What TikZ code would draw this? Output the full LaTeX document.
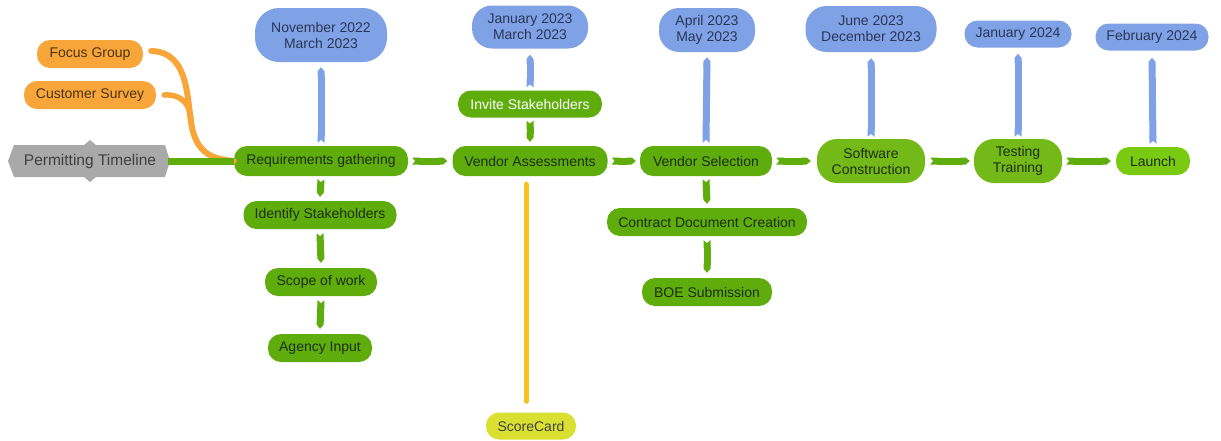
\documentclass[tikz,border=0pt]{standalone}
\usepackage{fontspec}
\setmainfont{Liberation Sans}
\usetikzlibrary{arrows.meta}
\definecolor{grn}{HTML}{5FAD0D}
\definecolor{grnl}{HTML}{73BA18}
\definecolor{grnt}{HTML}{1F2D12}
\definecolor{blu}{HTML}{7FA2E6}
\definecolor{blut}{HTML}{2B3655}
\definecolor{org}{HTML}{F8A53A}
\definecolor{orgt}{HTML}{4A3414}
\definecolor{gry}{HTML}{A9A9A9}
\definecolor{gryt}{HTML}{404040}
\definecolor{ylw}{HTML}{D9E032}
\definecolor{ylwl}{HTML}{F7C21E}
\tikzset{
  pill/.style={rounded corners=13pt, inner sep=0pt, align=center, font=\fontsize{14}{16}\selectfont},
  gbox/.style={pill, fill=grn, text=grnt},
  lbox/.style={pill, fill=grnl, text=grnt},
  bbox/.style={pill, fill=blu, text=blut},
  obox/.style={pill, fill=org, text=orgt},
  glink/.style={draw=grn, line width=7pt, {Triangle Cap[reversed, cap angle=100]}-{Triangle Cap[cap angle=80]}},
  blink/.style={draw=blu, line width=7pt, {Triangle Cap[reversed, cap angle=100]}-{Triangle Cap[cap angle=80]}},
}
\begin{document}
\begin{tikzpicture}[x=1pt,y=-1pt]
\useasboundingbox (0,0) rectangle (1221,440);
\fill[white] (0,0) rectangle (1221,440);

% Permitting Timeline shape
\fill[gry] (14,145) -- (84,145) -- (90,140) -- (96,145) -- (165,145) -- (170,161) -- (165,177)
  -- (96,177) -- (90,182) -- (84,177) -- (14,177) -- (8,161) -- cycle;
\node[inner sep=0pt, text=gryt, font=\fontsize{15.5}{18}\selectfont] (pt) at (90,161) {Permitting Timeline};
\coordinate (ptr) at (168,161);

% orange
\node[obox, minimum width=106pt, minimum height=28pt] (fg) at (90,54) {Focus Group};
\node[obox, minimum width=132pt, minimum height=28pt] (cs) at (90,95) {Customer Survey};

% main green nodes
\node[gbox, minimum width=174pt, minimum height=30pt] (rg) at (321,161) {Requirements gathering};
\node[gbox, minimum width=155pt, minimum height=30pt] (va) at (530,161) {Vendor Assessments};
\node[gbox, minimum width=132pt, minimum height=30pt] (vs) at (706,161) {Vendor Selection};
\node[lbox, minimum width=108pt, minimum height=44pt, rounded corners=20pt] (sc) at (871,161) {Software\\Construction};
\node[lbox, minimum width=88pt, minimum height=44pt, rounded corners=20pt] (tt) at (1018,161) {Testing\\Training};
\node[lbox, minimum width=74pt, minimum height=28pt, fill=grnl!85!yellow!90!green] (la) at (1153,161) {Launch};

% sub green nodes
\node[gbox, minimum width=144pt, minimum height=27pt, text=white] (is) at (530,104) {Invite Stakeholders};
\node[gbox, minimum width=153pt, minimum height=28pt] (id) at (320,215) {Identify Stakeholders};
\node[gbox, minimum width=112pt, minimum height=28pt] (sw) at (321,282) {Scope of work};
\node[gbox, minimum width=104pt, minimum height=28pt] (ai) at (320,348) {Agency Input};
\node[gbox, minimum width=200pt, minimum height=28pt] (cd) at (707,222) {Contract Document Creation};
\node[gbox, minimum width=130pt, minimum height=28pt] (boe) at (707,292) {BOE Submission};
\node[pill, fill=ylw, text=gryt, minimum width=90pt, minimum height=27pt] (scd) at (531,426) {ScoreCard};

% date nodes
\node[bbox, minimum width=132pt, minimum height=54pt, rounded corners=24pt] (d1) at (321,35) {November 2022\\March 2023};
\node[bbox, minimum width=116pt, minimum height=43pt, rounded corners=20pt] (d2) at (530,27) {January 2023\\March 2023};
\node[bbox, minimum width=96pt, minimum height=44pt, rounded corners=20pt] (d3) at (707,30) {April 2023\\May 2023};
\node[bbox, minimum width=131pt, minimum height=46pt, rounded corners=21pt] (d4) at (871,29) {June 2023\\December 2023};
\node[bbox, minimum width=107pt, minimum height=27pt] (d5) at (1018,34) {January 2024};
\node[bbox, minimum width=113pt, minimum height=27pt] (d6) at (1152,37) {February 2024};

% orange curves
\draw[org, line width=6pt, line cap=round] (fg.east) ++(8,-3) coordinate (fge)
  .. controls (192,52) and (186,105) .. (193,132) .. controls (200,155) and (214,159) .. (rg.west);
\draw[org, line width=5.5pt, line cap=round] (cs.east) ++(8,0) coordinate (cse)
  .. controls (182,94) and (189,104) .. (191,118);

% green links
\draw[draw=grn, line width=7pt] (ptr) -- (rg.west);
\draw[glink] ([xshift=4pt]rg.east) -- ([xshift=-5pt]va.west);
\draw[glink] ([xshift=4pt]va.east) -- ([xshift=-4pt]vs.west);
\draw[glink] ([xshift=4pt]vs.east) -- ([xshift=-6pt]sc.west);
\draw[glink] ([xshift=5pt]sc.east) -- ([xshift=-4pt]tt.west);
\draw[glink] ([xshift=4pt]tt.east) -- ([xshift=-5pt]la.west);
\draw[glink] ([yshift=-3pt]is.south) -- ([yshift=4pt]va.north);
\draw[glink] ([yshift=-3pt]rg.south) -- ([yshift=4pt]id.north);
\draw[glink] ([yshift=-4pt]id.south) -- ([yshift=5pt]sw.north);
\draw[glink] ([yshift=-4pt]sw.south) -- ([yshift=5pt]ai.north);
\draw[glink] ([yshift=-3pt]vs.south) -- ([yshift=4pt]cd.north);
\draw[glink] ([yshift=-4pt]cd.south) -- ([yshift=5pt]boe.north);

% blue links
\draw[blink] ([yshift=3pt]rg.north) -- ([yshift=-5pt]d1.south);
\draw[blink] ([yshift=3pt]is.north) -- ([yshift=-6pt]d2.south);
\draw[blink] ([yshift=3pt]vs.north) -- ([yshift=-5pt]d3.south);
\draw[blink] ([yshift=2pt]sc.north) -- ([yshift=-6pt]d4.south);
\draw[blink] ([yshift=2pt]tt.north) -- ([yshift=-6pt]d5.south);
\draw[blink] ([yshift=3pt]la.north) -- ([yshift=-7pt]d6.south);

% yellow link
\draw[ylwl, line width=5pt, line cap=round] ([xshift=-4pt,yshift=-8pt]va.south) -- ([xshift=-5pt,yshift=11pt]scd.north);
\end{tikzpicture}
\end{document}
